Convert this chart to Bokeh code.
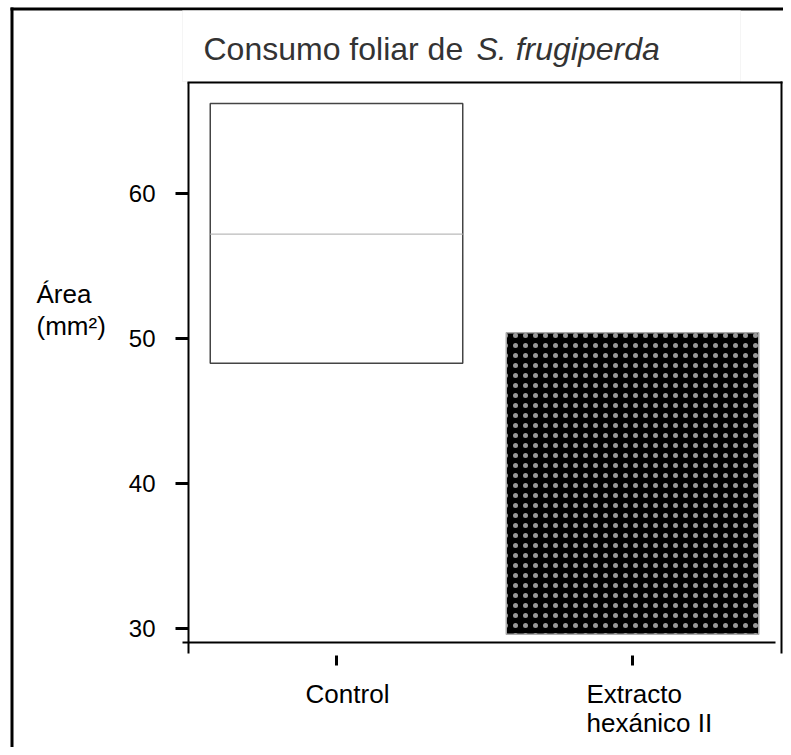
from bokeh.plotting import figure
from bokeh.models import (Range1d, FixedTicker, BoxAnnotation, Label, LinearAxis,
                          ColumnDataSource, CustomJSTickFormatter)
from bokeh.embed import file_html
from bokeh.resources import INLINE

# ---- data ----
categories = ["Control", "Extracto hexánico II"]
box_upper = [66.2, 50.4]
box_lower = [48.3, 29.6]
control_middle = [57.2]
y_ticks = [30, 40, 50, 60]
title_plain = "Consumo foliar de "
title_italic = "S. frugiperda"
y_label_lines = ["Área", "(mm²)"]
x_label_lines = [["Control"], ["Extracto", "hexánico II"]]

# ---- layout constants (pixels / plot frame) ----
W, H = 783, 747
FRAME = dict(x0=-0.5, x1=1.5, y0=28.276, y1=67.655)

cat_idx = list(range(len(categories)))

p = figure(width=W, height=H, x_range=Range1d(-1.1351, 1.5101),
           y_range=Range1d(21.793, 73.310), output_backend="svg",
           toolbar_location=None, x_axis_location=None, y_axis_location=None,
           min_border=0)
p.title.visible = False
p.outline_line_color = None
p.grid.visible = False
p.background_fill_color = "white"
p.border_fill_color = "white"

src = ColumnDataSource(dict(x=cat_idx, top=box_upper, bottom=box_lower,
                            fill=["white", "black"], line=["#444444", "#aaaaaa"],
                            hatch=["blank", "dot"]))
p.vbar(x="x", top="top", bottom="bottom", width=0.853, source=src,
       fill_color="fill", line_color="line", line_width=1.5,
       hatch_pattern="hatch", hatch_color="#999999", hatch_scale=10, hatch_weight=0.5)
p.vbar(x=[cat_idx[0]], top=control_middle, bottom=control_middle, width=0.853,
       fill_color=None, line_color="#bbbbbb", line_width=1.2)

# y axis
ya = LinearAxis(fixed_location=FRAME["x0"], bounds=(FRAME["y0"], FRAME["y1"]),
                ticker=FixedTicker(ticks=y_ticks))
ya.minor_tick_line_color = None
ya.axis_line_width = 2
ya.axis_line_color = "black"
ya.major_tick_in = 0
ya.major_tick_out = 13
ya.major_tick_line_width = 3
ya.major_label_standoff = 20
ya.major_label_text_font = "Liberation Sans"
ya.major_label_text_font_size = "24px"
ya.major_label_text_color = "black"
p.add_layout(ya, "left")

# x axis
xa = LinearAxis(fixed_location=29.034, bounds=(-0.52, 1.483),
                ticker=FixedTicker(ticks=cat_idx),
                formatter=CustomJSTickFormatter(code="return ''"))
xa.minor_tick_line_color = None
xa.axis_line_width = 2
xa.axis_line_color = "black"
xa.major_tick_in = -13
xa.major_tick_out = 23
xa.major_tick_line_width = 3
xa.major_tick_line_color = "black"
p.add_layout(xa, "below")

def cbox(l, r, t, b, fill="black", line=None, lw=1):
    p.add_layout(BoxAnnotation(left=l, right=r, top=t, bottom=b,
                               left_units="canvas", right_units="canvas",
                               top_units="canvas", bottom_units="canvas",
                               fill_color=fill, fill_alpha=1.0, line_color=line,
                               line_width=lw))

cbox(10, W, 7, 10)          # outer top border
cbox(10, 13, 7, H)          # outer left border
cbox(182, 740, 10, 81, fill="white", line="#dddddd")  # title box
cbox(187, 782, 81, 83)      # frame top
cbox(780, 782, 81, 653)     # frame right

def lab(x, y, text, size="26px", color="black", style="normal", align="left",
        x_units="canvas", x_offset=0):
    p.add_layout(Label(x=x, y=y, x_units=x_units, y_units="canvas", text=text,
                       x_offset=x_offset, text_font="Liberation Sans",
                       text_font_size=size, text_color=color, text_font_style=style,
                       text_baseline="alphabetic", text_align=align))

lab(203, 48, title_plain, size="32px", color="#333333")
lab(476, 48, title_italic, size="32px", color="#333333", style="italic")
lab(36, 293, y_label_lines[0])
lab(36, 325, y_label_lines[1])
lab(cat_idx[0], 693, x_label_lines[0][0], align="center", x_units="data", x_offset=11)
lab(cat_idx[1], 693, x_label_lines[1][0], x_units="data", x_offset=-46)
lab(cat_idx[1], 722, x_label_lines[1][1], x_units="data", x_offset=-46)

open("out.html", "w").write(file_html(p, INLINE))
